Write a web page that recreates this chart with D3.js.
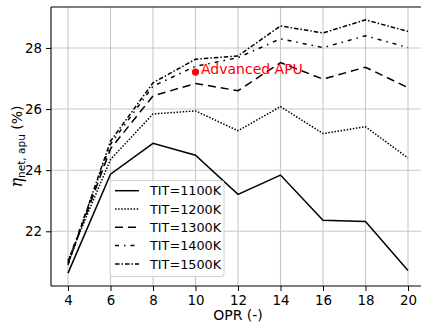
<!DOCTYPE html>
<html><head><meta charset="utf-8">
<script src="https://cdn.jsdelivr.net/npm/d3@7"></script>
<style>body{margin:0;background:#fff;overflow:hidden}svg{display:block;font-family:"DejaVu Sans",sans-serif}</style>
</head><body><svg id="c" width="421" height="328"></svg>
<script>
const opr = [4, 6, 8, 10, 12, 14, 16, 18, 20];
const tit1100 = [20.63, 23.87, 24.88, 24.49, 23.21, 23.84, 22.36, 22.32, 20.72];
const tit1200 = [21.05, 24.35, 25.84, 25.94, 25.29, 26.08, 25.20, 25.42, 24.40];
const tit1300 = [20.95, 24.70, 26.43, 26.84, 26.60, 27.52, 26.98, 27.37, 26.70];
const tit1400 = [21.00, 24.85, 26.75, 27.40, 27.68, 28.30, 28.01, 28.40, 28.01];
const tit1500 = [20.90, 24.95, 26.86, 27.63, 27.74, 28.72, 28.49, 28.92, 28.54];
const seriesNames = ["TIT=1100K", "TIT=1200K", "TIT=1300K", "TIT=1400K", "TIT=1500K"];
const xTicks = [4, 6, 8, 10, 12, 14, 16, 18, 20];
const yTicks = [22, 24, 26, 28];
const annotation = {x: 10, y: 27.21, label: "Advanced APU"};

const seriesVals = [tit1100, tit1200, tit1300, tit1400, tit1500];
const dashes = [null, "1.5,1.6", "8,5", "4,5,1.5,5", "4.5,2,1.5,2"];

const svg = d3.select("#c");
const L = 51, R = 425, T = 7, B = 286;
const x = d3.scaleLinear().domain([3.2, 20.8]).range([L, R]);
const y = d3.scaleLinear().domain([20.21, 29.34]).range([B, T]);

// grid
const g = svg.append("g");
g.selectAll(".gx").data(xTicks).enter().append("line")
  .attr("x1", d => x(d)).attr("x2", d => x(d)).attr("y1", T).attr("y2", B)
  .attr("stroke", "#c8c8c8").attr("stroke-width", 1.1);
g.selectAll(".gy").data(yTicks).enter().append("line")
  .attr("x1", L).attr("x2", R).attr("y1", d => y(d)).attr("y2", d => y(d))
  .attr("stroke", "#c8c8c8").attr("stroke-width", 1.1);

// axes
const xAxis = d3.axisBottom(x).tickValues(xTicks).tickSize(5).tickPadding(4).tickFormat(d3.format("d"));
const yAxis = d3.axisLeft(y).tickValues(yTicks).tickSize(5).tickPadding(4).tickFormat(d3.format("d"));
const gx = svg.append("g").attr("transform", `translate(0,${B})`).call(xAxis);
const gy = svg.append("g").attr("transform", `translate(${L},0)`).call(yAxis);
[gx, gy].forEach(a => {
  a.select(".domain").remove();
  a.selectAll("text").attr("font-size", 13.4).attr("fill", "#000").attr("font-family", "DejaVu Sans");
  a.selectAll("line").attr("stroke", "#000").attr("stroke-width", 1);
});
// spines
svg.append("line").attr("x1", L).attr("x2", L).attr("y1", T).attr("y2", B).attr("stroke", "#000").attr("stroke-width", 1.1);
svg.append("line").attr("x1", L).attr("x2", R).attr("y1", B).attr("y2", B).attr("stroke", "#000").attr("stroke-width", 1.1);
svg.append("line").attr("x1", L).attr("x2", R).attr("y1", T).attr("y2", T).attr("stroke", "#000").attr("stroke-width", 1.1);

// lines
const line = d3.line().x((d, i) => x(opr[i])).y(d => y(d));
seriesVals.forEach((vals, k) => {
  svg.append("path").datum(vals).attr("d", line)
    .attr("fill", "none").attr("stroke", "#000").attr("stroke-width", 1.5)
    .attr("stroke-dasharray", dashes[k]);
});

// annotation
svg.append("circle").attr("cx", x(annotation.x)).attr("cy", y(annotation.y)).attr("r", 3.6).attr("fill", "#ff0000");
svg.append("text").attr("x", x(annotation.x) + 5.5).attr("y", y(annotation.y) + 1.5)
  .attr("font-size", 14).attr("fill", "#ff0000").text(annotation.label);

// legend
const lg = svg.append("g");
lg.append("rect").attr("x", 110).attr("y", 180.5).attr("width", 114).attr("height", 96).attr("rx", 3)
  .attr("fill", "#fff").attr("fill-opacity", 0.8).attr("stroke", "#d0d0d0").attr("stroke-width", 1);
seriesNames.forEach((n, k) => {
  const yy = 190.7 + k * 18.3;
  lg.append("line").attr("x1", 115).attr("x2", 139).attr("y1", yy).attr("y2", yy)
    .attr("stroke", "#000").attr("stroke-width", 1.5).attr("stroke-dasharray", dashes[k]);
  lg.append("text").attr("x", 150).attr("y", yy + 4.6).attr("font-size", 12.8).attr("fill", "#000").text(n);
});

// axis labels
svg.append("text").attr("x", (L + R) / 2).attr("y", 320).attr("text-anchor", "middle")
  .attr("font-size", 14).attr("fill", "#000").text("OPR (-)");
const yl = svg.append("text").attr("transform", `translate(22,${(T + B) / 2}) rotate(-90)`)
  .attr("text-anchor", "middle").attr("font-size", 14).attr("fill", "#000");
yl.append("tspan").attr("font-style", "italic").attr("font-family", "DejaVu Serif").attr("font-size", 16).text("η");
yl.append("tspan").attr("font-size", 10.5).attr("dy", 3).text("net, apu");
yl.append("tspan").attr("dy", -3).text(" (%)");
</script></body></html>
